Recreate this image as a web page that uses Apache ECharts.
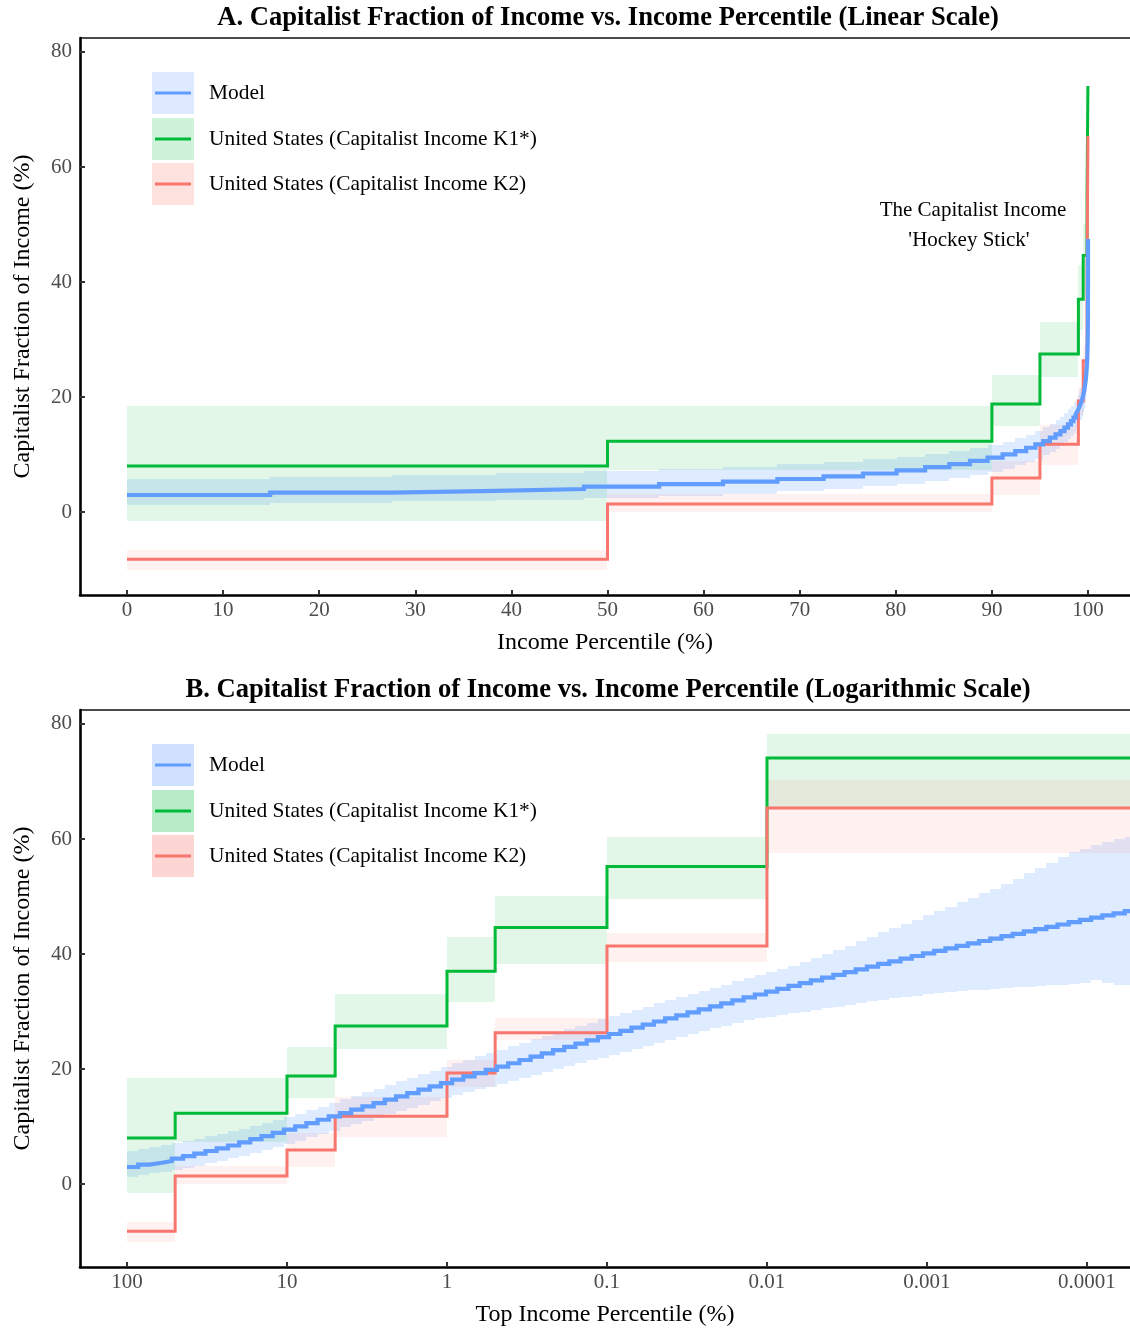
<!DOCTYPE html>
<html>
<head>
<meta charset="utf-8">
<script src="https://cdn.jsdelivr.net/npm/echarts@6/dist/echarts.min.js"></script>
<style>
html,body{margin:0;padding:0;background:#fff;}
#chart{width:1130px;height:1329px;}
</style>
</head>
<body>
<div id="chart"></div>
<script>
// ---------- DATA ----------
// Model grid: top-income-percentile step edges (%)
const topPct = [
 100, 85.1, 72.42, 61.63, 52.45, 44.63, 37.98, 32.32, 27.51, 23.41,
 19.92, 16.95, 14.43, 12.28, 10.45, 8.891, 7.567, 6.439, 5.48, 4.663,
 3.969, 3.377, 2.874, 2.446, 2.081, 1.771, 1.507, 1.283, 1.0915, 0.9289,
 0.7905, 0.6727, 0.5725, 0.4872, 0.4146, 0.3528, 0.3002, 0.2555, 0.2174, 0.185,
 0.1575, 0.134, 0.114, 0.09704, 0.08258, 0.07028, 0.05981, 0.0509, 0.04331, 0.03686,
 0.03137, 0.02669, 0.02272, 0.01933, 0.01645, 0.014, 0.01191, 0.01014, 0.008627, 0.007342,
 0.006248, 0.005317, 0.004525, 0.003851, 0.003277, 0.002789, 0.002373, 0.00202, 0.001719, 0.001463,
 0.001245, 0.001059, 0.0009014, 0.0007671, 0.0006528, 0.0005556, 0.0004728, 0.0004023, 0.0003424, 0.0002914,
 0.000248, 0.000211, 0.0001796, 0.0001528, 0.0001301, 0.0001107, 0.00009417, 0.00008014, 0.0000682, 0.00005804,
 0.00004939
];
const modelMean = [
 2.96, 3.36, 3.66, 4.00, 4.40, 4.84, 5.27, 5.74, 6.20, 6.70,
 7.25, 7.80, 8.33, 8.90, 9.45, 10.02, 10.60, 11.18, 11.76, 12.34,
 12.92, 13.50, 14.08, 14.66, 15.24, 15.82, 16.40, 16.98, 17.56, 18.14,
 18.72, 19.29, 19.86, 20.43, 21.00, 21.57, 22.14, 22.71, 23.28, 23.85,
 24.42, 24.98, 25.54, 26.09, 26.64, 27.18, 27.72, 28.26, 28.79, 29.32,
 29.85, 30.38, 30.90, 31.42, 31.94, 32.45, 32.96, 33.46, 33.95, 34.44,
 34.93, 35.42, 35.90, 36.38, 36.86, 37.33, 37.80, 38.27, 38.73, 39.19,
 39.65, 40.10, 40.54, 40.98, 41.41, 41.84, 42.26, 42.68, 43.10, 43.51,
 43.92, 44.33, 44.73, 45.13, 45.53, 45.92, 46.31, 46.70, 47.08, 47.46
];
const modelHigh = [
 5.66, 6.06, 6.36, 6.70, 7.10, 7.54, 7.91, 8.32, 8.72, 9.16,
 9.65, 10.15, 10.63, 11.15, 11.65, 12.25, 12.87, 13.48, 14.09, 14.71,
 15.32, 15.95, 16.58, 17.21, 17.84, 18.47, 19.10, 19.73, 20.36, 20.97,
 21.58, 22.18, 22.77, 23.37, 23.97, 24.57, 25.15, 25.74, 26.32, 26.90,
 27.48, 28.06, 28.63, 29.19, 29.75, 30.31, 30.86, 31.42, 31.96, 32.51,
 33.05, 33.60, 34.14, 34.68, 35.22, 35.75, 36.32, 36.88, 37.43, 37.98,
 38.53, 39.25, 39.97, 40.68, 41.46, 42.23, 43.00, 43.74, 44.46, 45.19,
 45.95, 46.70, 47.44, 48.21, 48.98, 49.74, 50.56, 51.38, 52.20, 53.11,
 54.02, 54.93, 55.86, 56.80, 57.73, 58.32, 58.91, 59.50, 59.93, 60.36
];
const modelLow = [
 1.26, 1.60, 1.84, 2.12, 2.46, 2.84, 3.21, 3.62, 4.02, 4.46,
 4.95, 5.46, 5.95, 6.49, 7.00, 7.56, 8.13, 8.70, 9.28, 9.85,
 10.42, 10.98, 11.54, 12.10, 12.66, 13.23, 13.79, 14.35, 14.91, 15.43,
 15.94, 16.45, 16.95, 17.46, 17.96, 18.47, 18.98, 19.48, 19.99, 20.50,
 21.01, 21.50, 22.00, 22.49, 23.01, 23.52, 24.03, 24.55, 25.05, 25.55,
 26.05, 26.56, 27.06, 27.56, 28.06, 28.55, 28.84, 29.13, 29.40, 29.67,
 29.95, 30.22, 30.53, 30.85, 31.16, 31.46, 31.77, 32.07, 32.30, 32.52,
 32.75, 32.97, 33.17, 33.38, 33.53, 33.67, 33.81, 33.95, 34.08, 34.21,
 34.32, 34.43, 34.53, 34.63, 34.73, 34.87, 35.50, 34.90, 34.68, 34.56
];
// United States groups: top-percentile edges (%)
const usEdges = [100, 50, 10, 5, 1, 0.5, 0.1, 0.01, 0.00001];
const k1Value = [8.0, 12.3, 18.8, 27.5, 37.0, 44.6, 55.2, 74.1];
const k1Low   = [-1.6, 7.3, 15.0, 23.5, 31.7, 38.2, 49.5, 65.5];
const k1High  = [18.4, 18.4, 23.8, 33.1, 42.9, 50.0, 60.4, 78.2];
const k2Value = [-8.2, 1.4, 5.9, 11.8, 19.3, 26.3, 41.4, 65.4];
const k2Low   = [-10.1, 0.0, 3.0, 8.2, 16.8, 25.0, 38.6, 57.5];
const k2High  = [-6.6, 3.1, 8.8, 15.1, 21.6, 28.8, 43.7, 70.3];
// Tick labels
const yTicks = [0, 20, 40, 60, 80];
const linTicks = [0, 10, 20, 30, 40, 50, 60, 70, 80, 90, 100];
const logTicks = [100, 10, 1, 0.1, 0.01, 0.001, 0.0001];
const logTickLabels = ['100', '10', '1', '0.1', '0.01', '0.001', '0.0001'];
const seriesNames = ['Model', 'United States (Capitalist Income K1*)', 'United States (Capitalist Income K2)'];

// ---------- STYLE ----------
const FONT = '"Liberation Serif", "Times New Roman", serif';
const C_MODEL = '#619CFF', C_K1 = '#00BA38', C_K2 = '#F8766D';
const F_MODEL = 'rgba(97,156,255,0.2)', F_K1 = 'rgba(0,186,56,0.11)', F_K2 = 'rgba(248,118,109,0.1)';

// ---------- BUILDERS ----------
const toLin = p => 100 - p;
const toLog = p => p;
function bandData(edges, lo, hi, toX) {
  return lo.map((l, i) => [toX(edges[i]), toX(edges[i + 1]), l, hi[i]]);
}
function stepData(edges, vals, toX) {
  const d = vals.map((v, i) => [toX(edges[i]), v]);
  d.push([toX(edges[edges.length - 1]), vals[vals.length - 1]]);
  return d;
}
function bandRender(color) {
  return function (params, api) {
    const a = api.coord([api.value(0), api.value(3)]);
    const b = api.coord([api.value(1), api.value(2)]);
    let x0 = Math.min(a[0], b[0]), x1 = Math.max(a[0], b[0]);
    let rx0 = Math.round(x0), rx1 = Math.round(x1);
    if (rx1 - rx0 < 1) { rx0 = x0; rx1 = x1; }
    const y0 = Math.round(Math.min(a[1], b[1])), y1 = Math.round(Math.max(a[1], b[1]));
    const cs = params.coordSys;
    const shape = echarts.graphic.clipRectByRect(
      { x: rx0, y: y0, width: rx1 - rx0, height: y1 - y0 },
      { x: cs.x, y: cs.y, width: cs.width, height: cs.height });
    if (!shape) return;
    return { type: 'rect', shape: shape, style: { fill: color } };
  };
}
function bandSeries(name, idx, data, color) {
  return { type: 'custom', name: name, xAxisIndex: idx, yAxisIndex: idx, renderItem: bandRender(color),
           data: data, encode: { x: [0, 1], y: [2, 3] }, silent: true, z: 1 };
}
function lineSeries(name, idx, data, color, width, z) {
  return { type: 'line', name: name, xAxisIndex: idx, yAxisIndex: idx, data: data, step: 'end',
           symbol: 'none', clip: true, lineStyle: { color: color, width: width, join: 'miter' }, z: z };
}
function seriesFor(idx, toX) {
  return [
    bandSeries(seriesNames[0] + ' band', idx, bandData(topPct, modelLow, modelHigh, toX), F_MODEL),
    bandSeries(seriesNames[1] + ' band', idx, bandData(usEdges, k1Low, k1High, toX), F_K1),
    bandSeries(seriesNames[2] + ' band', idx, bandData(usEdges, k2Low, k2High, toX), F_K2),
    lineSeries(seriesNames[1], idx, stepData(usEdges, k1Value, toX), C_K1, 3, 3),
    lineSeries(seriesNames[2], idx, stepData(usEdges, k2Value, toX), C_K2, 3, 4),
    lineSeries(seriesNames[0], idx, stepData(topPct, modelMean, toX), C_MODEL, 4.2, 5)
  ];
}
const axisLineStyle = { show: true, onZero: false, lineStyle: { color: '#000', width: 2.6 } };
const axisTickStyle = (vals) => ({ show: true, inside: true, length: 5, customValues: vals, lineStyle: { color: '#333', width: 2 } });
function yAxisFor(idx) {
  return {
    type: 'value', gridIndex: idx, min: -14.43, max: 82.43,
    name: 'Capitalist Fraction of Income (%)', nameLocation: 'middle', nameGap: 45, nameRotate: 90,
    nameTextStyle: { fontFamily: FONT, fontSize: 24, color: '#000' },
    axisLine: axisLineStyle, axisTick: axisTickStyle(yTicks),
    axisLabel: { customValues: yTicks, fontFamily: FONT, fontSize: 21, color: '#4D4D4D', margin: 8 },
    splitLine: { show: false }
  };
}
function logLabel(v) {
  let best = 0, bd = Infinity;
  logTicks.forEach((t, i) => { const d = Math.abs(Math.log10(t) - Math.log10(v)); if (d < bd) { bd = d; best = i; } });
  return logTickLabels[best];
}
function legendGraphics(top, alphaBoost) {
  const fills = alphaBoost ?
    ['rgba(97,156,255,0.30)', 'rgba(0,186,56,0.28)', 'rgba(248,118,109,0.30)'] :
    ['rgba(97,156,255,0.21)', 'rgba(0,186,56,0.19)', 'rgba(248,118,109,0.21)'];
  const lines = [C_MODEL, C_K1, C_K2];
  const out = [];
  const ys = [top, top + 46, top + 91];
  for (let i = 0; i < 3; i++) {
    out.push({ type: 'rect', shape: { x: 152, y: ys[i], width: 42, height: 42 }, style: { fill: fills[i] }, z: 100 });
    out.push({ type: 'line', shape: { x1: 155, y1: ys[i] + 21, x2: 191, y2: ys[i] + 21 }, style: { stroke: lines[i], lineWidth: 3 }, z: 101 });
    out.push({ type: 'text', x: 209, y: ys[i] + 21, style: { text: seriesNames[i], font: '21.4px ' + FONT, fill: '#000', align: 'left', verticalAlign: 'middle' }, z: 101 });
  }
  return out;
}

const option = {
  animation: false,
  backgroundColor: '#fff',
  grid: [
    { left: 80, right: 0, top: 38, height: 557 },
    { left: 80, right: 0, top: 710, height: 557 }
  ],
  xAxis: [
    {
      type: 'value', gridIndex: 0, min: -4.89, max: 104.37,
      name: 'Income Percentile (%)', nameLocation: 'middle', nameGap: 36,
      nameTextStyle: { fontFamily: FONT, fontSize: 24, color: '#000' },
      axisLine: axisLineStyle, axisTick: axisTickStyle(linTicks),
      axisLabel: { customValues: linTicks, fontFamily: FONT, fontSize: 21, color: '#4D4D4D', margin: 5 },
      splitLine: { show: false }
    },
    {
      type: 'log', logBase: 10, gridIndex: 1, inverse: true, min: 0.00005385, max: 196.68,
      name: 'Top Income Percentile (%)', nameLocation: 'middle', nameGap: 36,
      nameTextStyle: { fontFamily: FONT, fontSize: 24, color: '#000' },
      axisLine: axisLineStyle, axisTick: axisTickStyle(logTicks),
      axisLabel: { customValues: logTicks, formatter: logLabel, fontFamily: FONT, fontSize: 21, color: '#4D4D4D', margin: 5 },
      splitLine: { show: false }, minorTick: { show: false }
    }
  ],
  yAxis: [yAxisFor(0), yAxisFor(1)],
  series: seriesFor(0, toLin).concat(seriesFor(1, toLog)),
  graphic: [
    { type: 'text', x: 608, y: 18, style: { text: 'A. Capitalist Fraction of Income vs. Income Percentile (Linear Scale)', font: 'bold 26.6px ' + FONT, fill: '#000', align: 'center', verticalAlign: 'middle' } },
    { type: 'text', x: 608, y: 690, style: { text: 'B. Capitalist Fraction of Income vs. Income Percentile (Logarithmic Scale)', font: 'bold 26.6px ' + FONT, fill: '#000', align: 'center', verticalAlign: 'middle' } },
    { type: 'line', shape: { x1: 80, y1: 38, x2: 1130, y2: 38 }, style: { stroke: '#111', lineWidth: 1.5 } },
    { type: 'line', shape: { x1: 80, y1: 710, x2: 1130, y2: 710 }, style: { stroke: '#111', lineWidth: 1.5 } },
    { type: 'text', x: 973, y: 210, style: { text: 'The Capitalist Income', font: '21px ' + FONT, fill: '#000', align: 'center', verticalAlign: 'middle' } },
    { type: 'text', x: 969, y: 240, style: { text: "'Hockey Stick'", font: '21px ' + FONT, fill: '#000', align: 'center', verticalAlign: 'middle' } }
  ].concat(legendGraphics(72, false), legendGraphics(744, true))
};

const chart = echarts.init(document.getElementById('chart'), null, { renderer: 'canvas' });
chart.setOption(option);
</script>
</body>
</html>
